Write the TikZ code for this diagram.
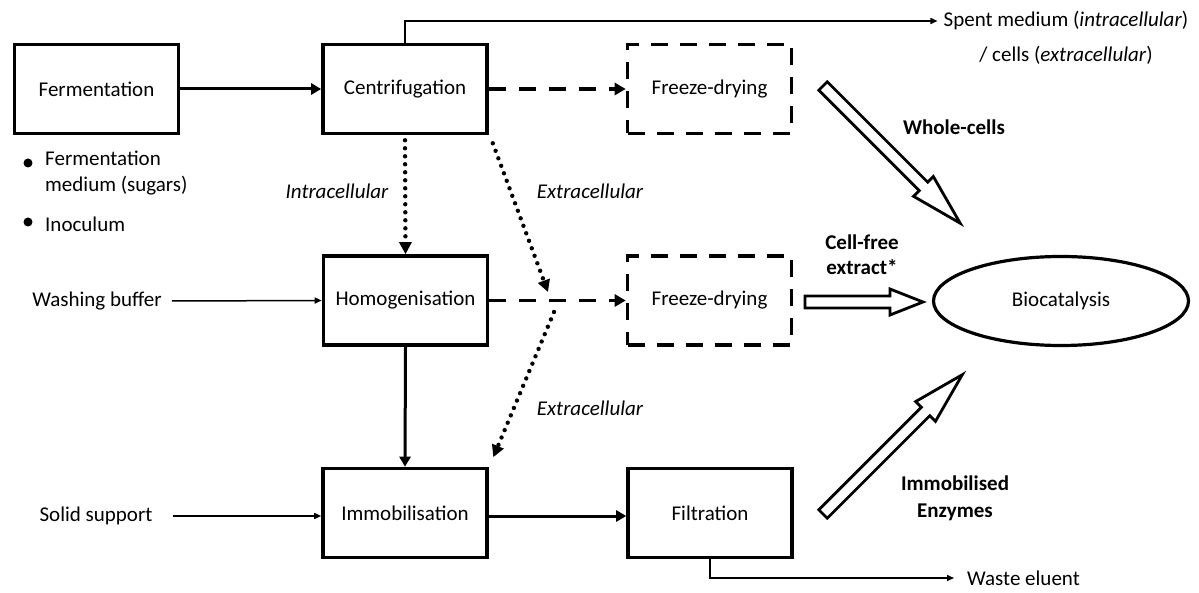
\documentclass[tikz,border=0pt]{standalone}
\usepackage{fontspec}
\setmainfont{Carlito}
\usetikzlibrary{arrows.meta,shapes.geometric}
\newcommand\fatarrow[7]{%
  \begin{scope}[shift={(#1,#2)}, rotate=#3]
    \draw[fat] (0,#7) -- ({#4-#5},#7) -- ({#4-#5},#6) -- (#4,0) -- ({#4-#5},-#6) -- ({#4-#5},-#7) -- (0,-#7) -- cycle;
  \end{scope}}
\tikzset{
  every node/.style={font=\fontsize{21}{26}\selectfont},
  box/.style={draw, line width=3.6pt, minimum width=164pt, minimum height=89pt, inner sep=0pt},
  dbox/.style={box, dash pattern=on 17pt off 12pt},
  lbl/.style={inner sep=0pt},
  thickarr/.style={line width=3pt, -{Triangle[length=10pt,width=11pt]}},
  thinarr/.style={line width=1.5pt, -{Triangle[length=7pt,width=6pt]}},
  dasharr/.style={line width=3.4pt, dash pattern=on 17pt off 13pt, -{Triangle[length=11pt,width=12pt]}},
  dotarr/.style={line width=4.4pt, line cap=round, dash pattern=on 0pt off 8pt, -{Triangle[length=12pt,width=12pt]}},
  fat/.style={line width=2.8pt, line join=miter, fill=white},
}
\begin{document}
\begin{tikzpicture}[x=1pt,y=-1pt]
\useasboundingbox (0,0) rectangle (1199,593);
% boxes
\node[box] (ferm) at (96.5,89) {Fermentation};
\node[box] (centr) at (405,89) {Centrifugation};
\node[dbox] (fd1) at (709.5,89) {Freeze-drying};
\node[box] (homog) at (405.5,300.5) {Homogenisation};
\node[dbox] (fd2) at (709.5,300.5) {Freeze-drying};
\node[box] (immob) at (405,513) {Immobilisation};
\node[box] (filt) at (710,513) {Filtration};
\node[draw, ellipse, line width=3.2pt, minimum width=255pt, minimum height=89pt, inner sep=0pt] (bio) at (1061,301) {Biocatalysis};
% side texts
\node[lbl] (spent1) at (1066,21) {Spent medium (\textit{intracellular})};
\node[lbl] (spent2) at (1066,55) {/ cells (\textit{extracellular})};
\node[lbl, anchor=west] (waste) at (967,578) {Waste eluent};
\node[lbl] (wash) at (97,301) {Washing buffer};
\node[lbl] (solid) at (96,516) {Solid support};
\node[circle, fill, inner sep=0pt, minimum size=9pt] (b1) at (28,163) {};
\node[circle, fill, inner sep=0pt, minimum size=9pt] (b2) at (28,222) {};
\node[lbl, anchor=north west, align=left] (med) at (45,151) {Fermentation\\medium (sugars)};
\node[lbl, anchor=west] (inoc) at (45,224) {Inoculum};
\node[lbl, font=\fontsize{21}{26}\selectfont\itshape] (intra) at (337,191) {Intracellular};
\node[lbl, font=\fontsize{21}{26}\selectfont\itshape] (extra1) at (590,191) {Extracellular};
\node[lbl, font=\fontsize{21}{26}\selectfont\itshape] (extra2) at (590,408) {Extracellular};
\node[lbl, font=\fontsize{21}{25}\selectfont\bfseries] (whole) at (954,127) {Whole-cells};
\node[lbl, font=\fontsize{21}{25}\selectfont\bfseries, align=center] (cfe) at (862,255) {Cell-free\\extract*};
\node[lbl, font=\fontsize{21}{27}\selectfont\bfseries, align=center] (ie) at (955,498) {Immobilised\\Enzymes};
% connectors
\draw[thickarr] (ferm.east) -- (centr.west);
\draw[dasharr] (centr.east) -- (fd1.west);
\draw[thinarr] (centr.north) |- ([xshift=-6pt]spent1.west);
\draw[dotarr] ([yshift=-5pt]centr.south) -- (homog.north);
\coordinate (x1) at (548,292);
\coordinate (x2) at (554,312);
\draw[dotarr] ([shift={(4,8)}]centr.south east) -- (x1);
\draw[dotarr] (x2) -- ([shift={(4.5,-9.5)}]immob.north east);
\draw[dasharr] (homog.east) -- (fd2.west);
\draw[thinarr] ([xshift=10pt]wash.east) -- (homog.west);
\draw[thickarr] (homog.south) -- (immob.north);
\draw[thinarr] ([xshift=20pt]solid.east) -- (solid.east -| immob.west);
\draw[thickarr] (immob.east |- solid.east) -- (solid.east -| filt.west);
\draw[thinarr] (filt.south) |- ([xshift=-13pt]waste.west);
% hollow arrows
\fatarrow{823}{86}{-45}{194}{52}{14}{6}
\fatarrow{805}{302}{0}{118}{33}{13}{6}
\fatarrow{823}{514}{45}{197}{52}{14}{6}
\end{tikzpicture}
\end{document}
